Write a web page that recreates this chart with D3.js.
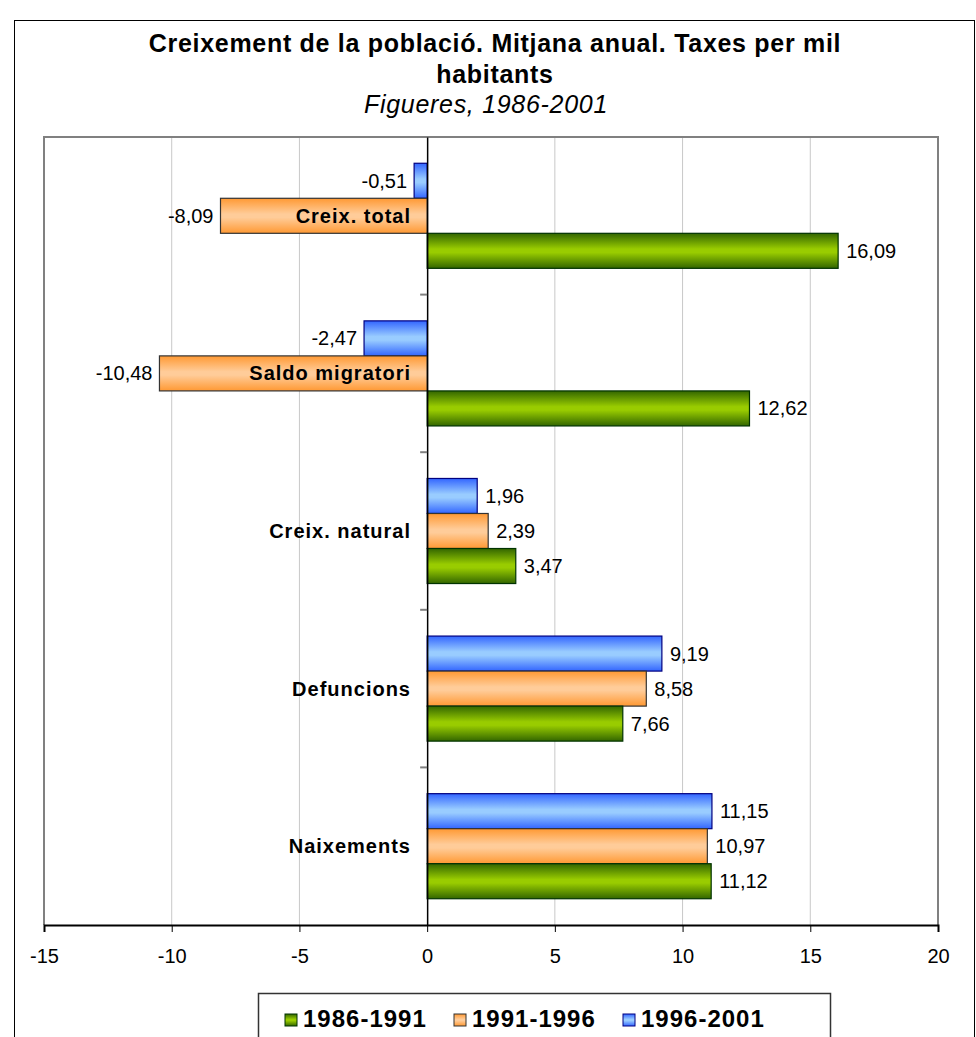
<!DOCTYPE html>
<html>
<head>
<meta charset="utf-8">
<script src="https://cdn.jsdelivr.net/npm/d3@7"></script>
<style>
  body { margin: 0; background: #fff; }
  svg { display: block; font-family: "Liberation Sans", Arial, sans-serif; }
</style>
</head>
<body>
<svg id="chart" width="976" height="1037"></svg>
<script>
// Dades
const categories = ['Creix. total', 'Saldo migratori', 'Creix. natural', 'Defuncions', 'Naixements'];
const series = ['1996-2001', '1991-1996', '1986-1991']; // ordre de dalt a baix dins cada grup
const legendOrder = ['1986-1991', '1991-1996', '1996-2001'];
const valors1986 = [16.09, 12.62, 3.47, 7.66, 11.12];
const valors1991 = [-8.09, -10.48, 2.39, 8.58, 10.97];
const valors1996 = [-0.51, -2.47, 1.96, 9.19, 11.15];
const xTicks = [-15, -10, -5, 0, 5, 10, 15, 20];

const valorsPerSerie = {
  '1986-1991': valors1986,
  '1991-1996': valors1991,
  '1996-2001': valors1996
};

const colors = {
  '1986-1991': { vora: '#336600', centre: '#99cc00', linia: '#003300', id: 'grad-verd' },
  '1991-1996': { vora: '#ff9933', centre: '#ffcc99', linia: '#333333', id: 'grad-taronja' },
  '1996-2001': { vora: '#3366ff', centre: '#99ccff', linia: '#000080', id: 'grad-blau' }
};

const svg = d3.select('#chart');
const locale = d3.formatLocale({ decimal: ',', thousands: '.', grouping: [3], currency: ['', ''], minus: '-' });
const fmt = locale.format('.2f');

// Gradients
const defs = svg.append('defs');
Object.values(colors).forEach(c => {
  const g = defs.append('linearGradient')
    .attr('id', c.id)
    .attr('x1', 0).attr('y1', 0).attr('x2', 0).attr('y2', 1);
  g.append('stop').attr('offset', '0%').attr('stop-color', c.vora);
  g.append('stop').attr('offset', '45%').attr('stop-color', c.centre);
  g.append('stop').attr('offset', '55%').attr('stop-color', c.centre);
  g.append('stop').attr('offset', '100%').attr('stop-color', c.vora);
});

// Marc exterior
svg.append('rect')
  .attr('x', 14.5).attr('y', 20.5)
  .attr('width', 960).attr('height', 1040)
  .attr('fill', '#fff').attr('stroke', '#000').attr('stroke-width', 1);

// Títol
const titol = svg.append('g').attr('text-anchor', 'middle');
titol.append('text')
  .attr('x', 495).attr('y', 52)
  .attr('font-size', 25).attr('font-weight', 'bold').attr('letter-spacing', 0.7)
  .text('Creixement de la població. Mitjana anual. Taxes per mil');
titol.append('text')
  .attr('x', 495).attr('y', 83)
  .attr('font-size', 25).attr('font-weight', 'bold').attr('letter-spacing', 0.7)
  .text('habitants');
titol.append('text')
  .attr('x', 486).attr('y', 113)
  .attr('font-size', 25).attr('font-style', 'italic').attr('letter-spacing', 0.7)
  .text('Figueres, 1986-2001');

// Escales
const plot = { esquerra: 44, dreta: 938, dalt: 137, baix: 925 };

const x = d3.scaleLinear()
  .domain([-15, 20])
  .range([plot.esquerra, plot.dreta]);

const y = d3.scaleBand()
  .domain(categories)
  .range([plot.dalt, plot.baix])
  .padding(0);

const ySub = d3.scaleBand()
  .domain(series)
  .range([0, y.bandwidth()])
  .paddingInner(0)
  .paddingOuter(0.75);

// Línies de quadrícula
svg.append('g')
  .selectAll('line')
  .data(xTicks.filter(t => t !== 0 && t !== -15 && t !== 20))
  .enter()
  .append('line')
  .attr('x1', d => x(d)).attr('x2', d => x(d))
  .attr('y1', plot.dalt).attr('y2', plot.baix)
  .attr('stroke', '#c8c8c8').attr('stroke-width', 1);

// Vora de l'àrea de traçat
svg.append('path')
  .attr('d', `M${plot.esquerra},${plot.baix}V${plot.dalt}H${plot.dreta}V${plot.baix}`)
  .attr('fill', 'none').attr('stroke', '#808080').attr('stroke-width', 2);

// Barres
const grups = svg.append('g')
  .selectAll('g')
  .data(categories)
  .enter()
  .append('g')
  .attr('transform', d => `translate(0, ${y(d)})`);

grups.selectAll('rect')
  .data((cat, i) => series.map(s => ({ serie: s, valor: valorsPerSerie[s][i] })))
  .enter()
  .append('rect')
  .attr('x', d => x(Math.min(0, d.valor)))
  .attr('y', d => ySub(d.serie))
  .attr('width', d => Math.abs(x(d.valor) - x(0)))
  .attr('height', ySub.bandwidth())
  .attr('fill', d => `url(#${colors[d.serie].id})`)
  .attr('stroke', d => colors[d.serie].linia)
  .attr('stroke-width', 1.2);

// Etiquetes de valor
grups.selectAll('text.valor')
  .data((cat, i) => series.map(s => ({ serie: s, valor: valorsPerSerie[s][i] })))
  .enter()
  .append('text')
  .attr('class', 'valor')
  .attr('x', d => d.valor < 0 ? x(d.valor) - 7 : x(d.valor) + 8)
  .attr('y', d => ySub(d.serie) + ySub.bandwidth() / 2)
  .attr('dy', '0.35em')
  .attr('text-anchor', d => d.valor < 0 ? 'end' : 'start')
  .attr('font-size', 20)
  .attr('fill', '#000')
  .text(d => fmt(d.valor));

// Eix vertical (zero)
const ejeY = d3.axisLeft(y).tickSize(0).tickFormat('');
svg.append('g')
  .attr('transform', `translate(${x(0)}, 0)`)
  .call(ejeY)
  .call(g => g.select('.domain').attr('stroke', '#000').attr('stroke-width', 1.5));

// Marques entre categories
svg.append('g')
  .selectAll('line')
  .data(categories.slice(1))
  .enter()
  .append('line')
  .attr('x1', x(0) - 7).attr('x2', x(0))
  .attr('y1', d => y(d)).attr('y2', d => y(d))
  .attr('stroke', '#808080').attr('stroke-width', 2);

// Etiquetes de categoria
svg.append('g')
  .selectAll('text')
  .data(categories)
  .enter()
  .append('text')
  .attr('x', 411)
  .attr('y', d => y(d) + y.bandwidth() / 2)
  .attr('dy', '0.35em')
  .attr('text-anchor', 'end')
  .attr('font-size', 20)
  .attr('font-weight', 'bold')
  .attr('letter-spacing', 1)
  .text(d => d);

// Eix X
const ejeX = d3.axisBottom(x).tickValues(xTicks).tickSize(7).tickPadding(17).tickFormat(locale.format('d'));
svg.append('g')
  .attr('transform', `translate(0, ${plot.baix})`)
  .call(ejeX)
  .call(g => g.select('.domain').attr('stroke', '#000').attr('stroke-width', 2))
  .call(g => g.selectAll('.tick line').attr('stroke', '#000'))
  .call(g => g.selectAll('.tick text')
    .attr('font-size', 20)
    .attr('font-family', '"Liberation Sans", Arial, sans-serif')
    .attr('fill', '#000'));

// Llegenda
const llegenda = svg.append('g').attr('id', 'legend');
llegenda.append('rect')
  .attr('x', 258.5).attr('y', 993.5)
  .attr('width', 572).attr('height', 70)
  .attr('fill', '#fff').attr('stroke', '#333').attr('stroke-width', 1.5);

const itemX = d3.scalePoint()
  .domain(legendOrder)
  .range([285, 623]);

const items = llegenda.selectAll('g.item')
  .data(legendOrder)
  .enter()
  .append('g')
  .attr('class', 'item')
  .attr('transform', d => `translate(${itemX(d)}, 1014)`);

items.append('rect')
  .attr('width', 12).attr('height', 12)
  .attr('fill', d => `url(#${colors[d].id})`)
  .attr('stroke', d => colors[d].linia)
  .attr('stroke-width', 1);

items.append('text')
  .attr('x', 18).attr('y', 13)
  .attr('font-size', 24)
  .attr('font-weight', 'bold')
  .attr('letter-spacing', 1)
  .text(d => d);
</script>
</body>
</html>
